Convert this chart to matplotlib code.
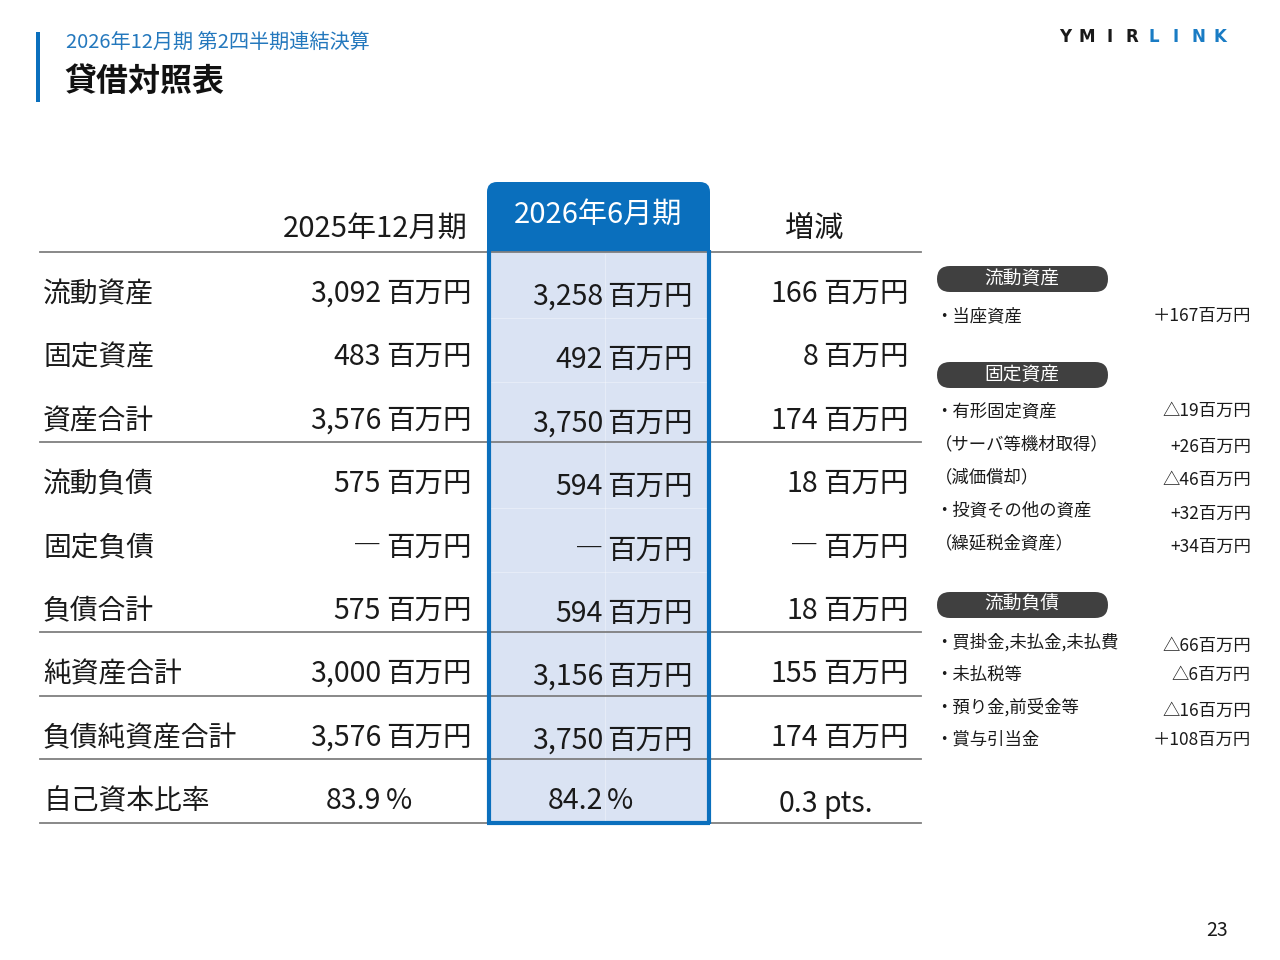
import matplotlib
matplotlib.use("Agg")
import matplotlib.pyplot as plt
from matplotlib.patches import FancyBboxPatch, Rectangle

plt.rcParams['font.family'] = ['Noto Sans CJK JP', 'DejaVu Sans']

# ---------------- data ----------------
subtitle = "2026年12月期 第2四半期連結決算"
title = "貸借対照表"
col_headers = ["2025年12月期", "2026年6月期", "増減"]
items = ["流動資産", "固定資産", "資産合計", "流動負債", "固定負債", "負債合計",
         "純資産合計", "負債純資産合計", "自己資本比率"]
prev_vals = ["3,092", "483", "3,576", "575", "―", "575", "3,000", "3,576", "83.9"]
curr_vals = ["3,258", "492", "3,750", "594", "―", "594", "3,156", "3,750", "84.2"]
diff_vals = ["166", "8", "174", "18", "―", "18", "155", "174", "0.3"]
units = ["百万円"] * 8 + ["%"]
diff_units = ["百万円"] * 8 + ["pts."]

note_groups = ["流動資産", "固定資産", "流動負債"]
note_labels = [
    ["・当座資産"],
    ["・有形固定資産", "（サーバ等機材取得）", "（減価償却）", "・投資その他の資産", "（繰延税金資産）"],
    ["・買掛金,未払金,未払費", "・未払税等", "・預り金,前受金等", "・賞与引当金"],
]
note_values = [
    ["＋167百万円"],
    ["△19百万円", "+26百万円", "△46百万円", "+32百万円", "+34百万円"],
    ["△66百万円", "△6百万円", "△16百万円", "＋108百万円"],
]
page_no = "23"

# ---------------- layout ----------------
BLUE = "#0a6fbd"
LIGHT = "#dae3f3"
GRAY_LINE = "#7f7f7f"
TXT = "#1a1a1a"

fig = plt.figure(figsize=(12.8, 9.6), dpi=100)
ax = fig.add_axes([0, 0, 1, 1])
ax.set_xlim(0, 1280)
ax.set_ylim(960, 0)
ax.axis("off")

# header bar + titles
ax.add_patch(Rectangle((36, 32), 4, 70, color=BLUE, lw=0))
ax.text(66, 42, subtitle, fontsize=14.5, color="#2478bd", va="center", ha="left")
ax.text(64, 82, title, fontsize=23, fontweight="bold", color="#111111", va="center", ha="left")

# logo
logo = "YMIRLINK"
for i, ch in enumerate(logo):
    ax.text(1065 + i * 22.2, 37, ch, fontsize=12, fontweight="bold",
            color="#1a1a1a" if i < 4 else "#1a7cc4", va="center", ha="center",
            family=["DejaVu Sans"])

# highlighted column
x0, x1 = 487, 710
ax.add_patch(Rectangle((x0, 252), x1 - x0, 823 - 252, facecolor=LIGHT, edgecolor="none", zorder=1))
ax.add_patch(FancyBboxPatch((x0, 182), x1 - x0, 90, boxstyle="round,pad=0,rounding_size=10",
                            facecolor=BLUE, edgecolor="none", zorder=2))
ax.add_patch(Rectangle((x0, 252), x1 - x0, 30, facecolor=LIGHT, edgecolor="none", zorder=2))

# subtle inner cell lines
row_y = [292, 355, 419, 482, 546, 609, 672, 736, 799]
ax.plot([605, 605], [254, 821], color="white", lw=0.8, alpha=0.35, zorder=2)
for yb in [318, 382, 508, 572]:
    ax.plot([x0, x1], [yb, yb], color="white", lw=0.8, alpha=0.35, zorder=2)

# horizontal rules
for yl in [252, 442, 632, 696, 759, 823]:
    ax.plot([40, 921], [yl, yl], color=GRAY_LINE, lw=1.3, zorder=3)

# column border
ax.plot([x0 + 1.5, x0 + 1.5], [250, 824], color=BLUE, lw=3, zorder=4, solid_capstyle="butt")
ax.plot([x1 - 1.5, x1 - 1.5], [250, 824], color=BLUE, lw=3, zorder=4, solid_capstyle="butt")
ax.plot([x0, x1], [823, 823], color=BLUE, lw=3, zorder=4, solid_capstyle="butt")

# column headers
ax.text(375, 229, col_headers[0], fontsize=21, color=TXT, ha="center", va="center", zorder=5)
ax.text(598, 215, col_headers[1], fontsize=21, color="white", ha="center", va="center", zorder=5)
ax.text(814, 229, col_headers[2], fontsize=21, color=TXT, ha="center", va="center", zorder=5)

# rows
num_right = [381, 603, 818]
unit_left = [386, 607, 823]
cols = [prev_vals, curr_vals, diff_vals]
for r, item in enumerate(items):
    y = row_y[r] + 2
    ax.text(43, y, item, fontsize=20, color=TXT, ha="left", va="center", zorder=5)
    for c in range(3):
        yy = y + (3 if c == 1 and r < 8 else 0)
        if r == 8:
            yy = y + (3 if c == 2 else 0)
        ax.text(num_right[c], yy, cols[c][r], fontsize=20.5, color=TXT, ha="right", va="center", zorder=5)
        u = diff_units[r] if c == 2 else units[r]
        ax.text(unit_left[c], yy, u, fontsize=20.5, color=TXT, ha="left", va="center", zorder=5)

# notes panel
pill_y = [279, 375, 605]
item_rows = [[315], [410, 443, 476, 509, 542], [641, 674, 706, 739]]
val_rows = [[315], [410, 446, 479, 513, 546], [645, 674, 710, 739]]
for g, name in enumerate(note_groups):
    py = pill_y[g]
    ax.add_patch(FancyBboxPatch((937, py - 13), 171, 26, boxstyle="round,pad=0,rounding_size=13",
                                facecolor="#404040", edgecolor="none", zorder=5))
    ax.text(1022, py - 1, name, fontsize=13.5, color="white", ha="center", va="center", zorder=6)
    for k, lab in enumerate(note_labels[g]):
        ax.text(935, item_rows[g][k] + 1, lab, fontsize=12.5, color=TXT, ha="left", va="center", zorder=6)
        ax.text(1251, val_rows[g][k] + 1, note_values[g][k], fontsize=12.5, color=TXT, ha="right", va="center", zorder=6)

ax.text(1217, 930, page_no, fontsize=14, color=TXT, ha="center", va="center")

fig.savefig("out.png", dpi=100, facecolor="white")
